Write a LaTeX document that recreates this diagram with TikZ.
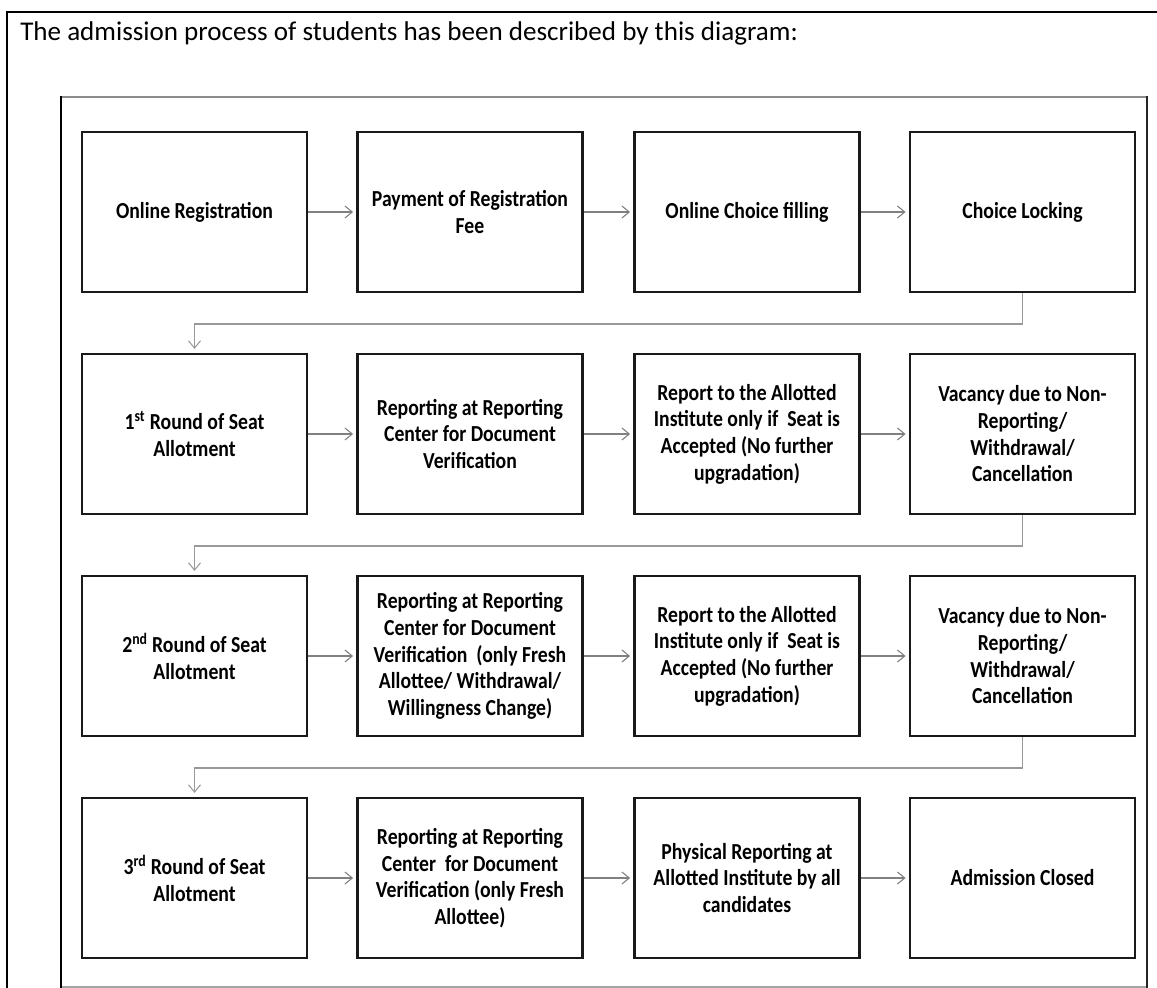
\documentclass[tikz,border=0pt]{standalone}
\usepackage{fontspec}
\setmainfont{Carlito}
\newfontfamily\boxfont[FakeStretch=0.86]{Carlito}
\usetikzlibrary{arrows.meta}
\tikzset{
  stepbox/.style={draw=black!90, line width=1.6pt, fill=white, minimum width=168.75pt, minimum height=120pt,
    inner sep=2pt, align=center, font=\boxfont\bfseries\fontsize{17.2pt}{20pt}\selectfont},
  flow/.style={draw=black!50, line width=0.8pt, -{Straight Barb[length=5.5pt,width=9pt,line width=0.8pt]}, shorten >=2.5pt},
  turn/.style={draw=black!40, line width=1.1pt, -{Straight Barb[length=5.5pt,width=9pt,line width=0.8pt]}, shorten >=3pt},
}
\begin{document}
\begin{tikzpicture}[x=0.75pt,y=-0.75pt]
\useasboundingbox (0,0) rectangle (1157,988);
% outer frame
\draw[black, line width=1.5pt] (7,988) -- (7,12) -- (1157,12);
% title
\node[anchor=base west, inner sep=0pt, font=\fontsize{20.3pt}{23pt}\selectfont] (title) at (20,41)
  {The admission process of students has been described by this diagram:};
% inner frame
\draw[black!45, line width=2.2pt] (61,97) -- (1147,97);
\draw[black!35, line width=2.2pt] (61,987) -- (1147,987);
\draw[black, line width=1.6pt] (61,96) -- (61,988);
\draw[black!85, line width=1.6pt] (1147,96) -- (1147,988);
% row 1
\node[stepbox] (b11) at (194.5,212) {Online Registration};
\node[stepbox] (b12) at (470,212) {Payment of Registration\\Fee};
\node[stepbox] (b13) at (747,212) {Online Choice filling};
\node[stepbox] (b14) at (1022.5,212) {Choice Locking};
% row 2
\node[stepbox] (b21) at (194.5,434) {1\textsuperscript{st} Round of Seat\\Allotment};
\node[stepbox] (b22) at (470,434) {Reporting at Reporting\\Center for Document\\Verification};
\node[stepbox] (b23) at (747,434) {Report to the Allotted\\Institute only if~ Seat is\\Accepted (No further\\upgradation)};
\node[stepbox] (b24) at (1022.5,434) {Vacancy due to Non-\\Reporting/\\Withdrawal/\\Cancellation};
% row 3
\node[stepbox] (b31) at (194.5,656) {2\textsuperscript{nd} Round of Seat\\Allotment};
\node[stepbox] (b32) at (470,656) {Reporting at Reporting\\Center for Document\\Verification~ (only Fresh\\Allottee/ Withdrawal/\\Willingness Change)};
\node[stepbox] (b33) at (747,656) {Report to the Allotted\\Institute only if~ Seat is\\Accepted (No further\\upgradation)};
\node[stepbox] (b34) at (1022.5,656) {Vacancy due to Non-\\Reporting/\\Withdrawal/\\Cancellation};
% row 4
\node[stepbox] (b41) at (194.5,878) {3\textsuperscript{rd} Round of Seat\\Allotment};
\node[stepbox] (b42) at (470,878) {Reporting at Reporting\\Center~ for Document\\Verification (only Fresh\\Allottee)};
\node[stepbox] (b43) at (747,878) {Physical Reporting at\\Allotted Institute by all\\candidates};
\node[stepbox] (b44) at (1022.5,878) {Admission Closed};
% horizontal arrows
\foreach \r in {1,2,3,4}{
  \draw[flow] (b\r1.east) -- (b\r2.west);
  \draw[flow] (b\r2.east) -- (b\r3.west);
  \draw[flow] (b\r3.east) -- (b\r4.west);
}
% row connectors
\draw[turn] (b14.south) -- ++(0,31) -| (b21.north);
\draw[turn] (b24.south) -- ++(0,31) -| (b31.north);
\draw[turn] (b34.south) -- ++(0,31) -| (b41.north);
\end{tikzpicture}
\end{document}
